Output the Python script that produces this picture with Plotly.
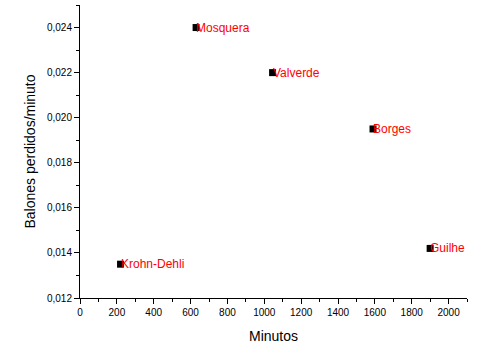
import plotly.graph_objects as go

players = ["Mosquera", "Valverde", "Borges", "Guilhe", "Krohn-Dehli"]
minutos = [630, 1045, 1590, 1900, 220]
balones = [0.0240, 0.0220, 0.0195, 0.0142, 0.0135]

fig = go.Figure(go.Scatter(
    x=minutos, y=balones, mode="markers",
    marker=dict(symbol="square", size=7, color="black"),
    cliponaxis=False,
))

for name, xv, yv in zip(players, minutos, balones):
    fig.add_annotation(x=xv, y=yv, text=name, showarrow=False,
                       xanchor="left", yanchor="middle", xshift=-2,
                       font=dict(color="#FF0000", size=12, family="Liberation Sans, Arial"))

axis_common = dict(
    showgrid=False, zeroline=False, showline=True, linecolor="black", linewidth=1,
    ticks="outside", ticklen=5, tickcolor="black", automargin=False,
    tickfont=dict(size=10, family="Liberation Sans, Arial", color="black"),
)

fig.update_layout(
    width=495, height=360,
    margin=dict(l=80, r=28, t=5, b=62),
    plot_bgcolor="white", paper_bgcolor="white",
    separators=",.",
    showlegend=False,
    font=dict(family="Liberation Sans, Arial", color="black"),
    xaxis=dict(**axis_common, range=[0, 2100], dtick=200, tick0=0,
               minor=dict(dtick=100, ticklen=3, ticks="outside", tickcolor="black"),
               title=dict(text="Minutos", font=dict(size=14), standoff=14)),
    yaxis=dict(**axis_common, range=[0.012, 0.025], dtick=0.002, tick0=0.012,
               tickformat=".3f",
               minor=dict(dtick=0.001, ticklen=3, ticks="outside", tickcolor="black"),
               title=dict(text="Balones perdidos/minuto", font=dict(size=14), standoff=8)),
)

fig.write_html("out.html", config={"displayModeBar": False},
               post_script="document.body.style.margin='0';document.body.style.overflow='hidden';")
